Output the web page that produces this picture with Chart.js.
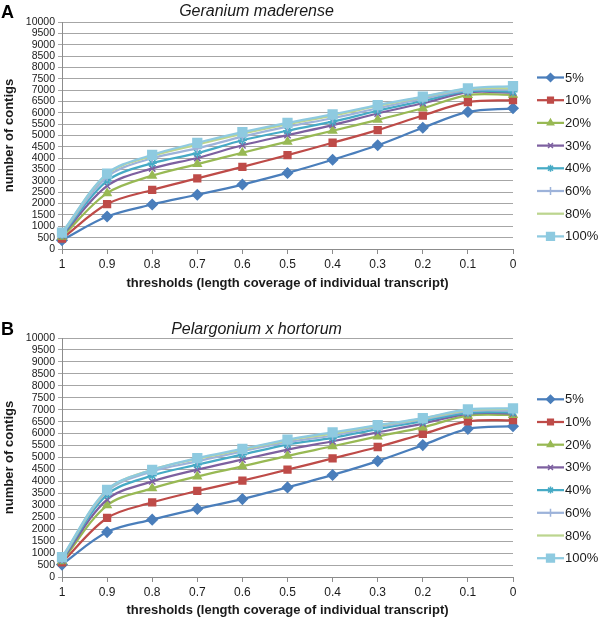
<!DOCTYPE html>
<html>
<head>
<meta charset="utf-8">
<script src="https://cdn.jsdelivr.net/npm/chart.js@4/dist/chart.umd.min.js"></script>
<style>
  body { margin: 0; background: #fff; width: 600px; height: 618px; overflow: hidden; }
  .panel { position: absolute; left: 0; width: 600px; }
</style>
</head>
<body>
<div class="panel" style="top:0;height:300px"><canvas id="chartA" width="600" height="300"></canvas></div>
<div class="panel" style="top:300px;height:318px"><canvas id="chartB" width="600" height="318"></canvas></div>
<script>
// x categories (length coverage threshold)
const thresholds = ['1', '0.9', '0.8', '0.7', '0.6', '0.5', '0.4', '0.3', '0.2', '0.1', '0'];
const seriesNames = ['5%', '10%', '20%', '30%', '40%', '60%', '80%', '100%'];
const yTicks = { min: 0, max: 10000, step: 500 };

// A - Geranium maderense
const geranium5 = [390, 1430, 1960, 2390, 2840, 3350, 3930, 4570, 5340, 6040, 6200];
const geranium10 = [460, 1980, 2600, 3110, 3620, 4135, 4680, 5240, 5880, 6470, 6560];
const geranium20 = [540, 2460, 3230, 3740, 4240, 4730, 5210, 5690, 6200, 6780, 6790];
const geranium30 = [590, 2780, 3550, 4010, 4570, 5020, 5460, 5970, 6420, 6900, 6890];
const geranium40 = [630, 3000, 3780, 4220, 4790, 5210, 5610, 6090, 6520, 6950, 6930];
const geranium60 = [670, 3180, 4000, 4430, 4950, 5390, 5760, 6200, 6620, 7000, 7020];
const geranium80 = [700, 3300, 4100, 4600, 5080, 5500, 5880, 6300, 6690, 7050, 7080];
const geranium100 = [720, 3320, 4150, 4680, 5150, 5560, 5930, 6340, 6710, 7080, 7180];

// B - Pelargonium x hortorum
const pelargonium5 = [520, 1880, 2400, 2850, 3260, 3750, 4270, 4850, 5520, 6200, 6310];
const pelargonium10 = [610, 2470, 3120, 3600, 4030, 4490, 4960, 5440, 5985, 6510, 6560];
const pelargonium20 = [660, 3000, 3710, 4210, 4630, 5070, 5470, 5880, 6260, 6750, 6780];
const pelargonium30 = [700, 3240, 4000, 4490, 4910, 5330, 5680, 6050, 6420, 6830, 6850];
const pelargonium40 = [740, 3440, 4240, 4700, 5120, 5540, 5820, 6190, 6520, 6870, 6890];
const pelargonium60 = [770, 3580, 4420, 4840, 5260, 5640, 5920, 6280, 6590, 6940, 6960];
const pelargonium80 = [800, 3630, 4490, 4940, 5330, 5720, 6000, 6330, 6630, 6980, 7030];
const pelargonium100 = [830, 3650, 4480, 4970, 5360, 5750, 6050, 6350, 6650, 7010, 7060];

// look of each series (Excel-like)
const colors = ['#4a7ebb', '#be4b48', '#98b954', '#7d60a0', '#46aac5', '#9db3da', '#bcd58f', '#8ecae0'];
const markers = ['rectRot', 'rect', 'triangle', 'crossRot', 'star', 'cross', false, 'rect'];
const markerSize = [5, 4.8, 4.5, 4.5, 4.5, 4.5, 0, 6.2];
const legendMarkerSize = [4, 4, 3.6, 3.5, 3.5, 4, 0, 5.5];

Chart.defaults.font.family = '"Liberation Sans", Arial, Helvetica, sans-serif';
Chart.defaults.color = '#1a1a1a';

function drawMark(ctx, style, r, x, y, color) {
  if (!style) return;
  ctx.save();
  ctx.fillStyle = color;
  ctx.strokeStyle = color;
  ctx.lineWidth = 1.5;
  Chart.helpers.drawPoint(ctx, { pointStyle: style, radius: r, rotation: 0, borderWidth: 1.5 }, x, y);
  ctx.restore();
}

function makeChart(id, letter, title, series, geo) {
  const legendPlugin = {
    id: 'sideLegend',
    afterDraw(chart) {
      const ctx = chart.ctx;
      ctx.save();
      ctx.font = '13px "Liberation Sans", Arial, sans-serif';
      ctx.textBaseline = 'middle';
      seriesNames.forEach((name, i) => {
        const y = geo.legendTop + i * geo.legendStep;
        ctx.strokeStyle = colors[i];
        ctx.lineWidth = 2.25;
        ctx.beginPath();
        ctx.moveTo(537, y);
        ctx.lineTo(564, y);
        ctx.stroke();
        drawMark(ctx, markers[i], legendMarkerSize[i], 550.5, y, colors[i]);
        ctx.fillStyle = '#1a1a1a';
        ctx.fillText(name, 565, y + 0.5);
      });
      // panel letter
      ctx.font = 'bold 18px "Liberation Sans", Arial, sans-serif';
      ctx.textBaseline = 'alphabetic';
      ctx.fillStyle = '#000';
      ctx.fillText(letter, 1, geo.letterBase);
      ctx.restore();
    }
  };

  return new Chart(document.getElementById(id), {
    type: 'line',
    data: {
      labels: thresholds,
      datasets: series.map((vals, i) => ({
        label: seriesNames[i],
        data: vals,
        order: -i,
        borderColor: colors[i],
        backgroundColor: colors[i],
        borderWidth: 2.25,
        tension: 0.33,
        pointStyle: markers[i],
        pointRadius: markerSize[i],
        pointBorderWidth: 1.5,
        pointBorderColor: colors[i],
        pointBackgroundColor: colors[i]
      }))
    },
    options: {
      responsive: false,
      animation: false,
      devicePixelRatio: 1,
      layout: { padding: { left: 0, right: 87, top: 0, bottom: 0 } },
      plugins: {
        legend: { display: false },
        tooltip: { enabled: false },
        title: {
          display: true,
          text: title,
          color: '#1a1a1a',
          font: { size: 16, style: 'italic', weight: 'normal', lineHeight: 1 },
          padding: { top: geo.titleTop, bottom: geo.titleBottom }
        }
      },
      scales: {
        x: {
          offset: false,
          afterFit(s) { s.height = geo.xHeight; },
          grid: { drawOnChartArea: false, drawTicks: true, tickLength: 5, color: '#8c8c8c' },
          border: { color: '#8c8c8c', width: 1 },
          ticks: { font: { size: 12 }, padding: 3, maxRotation: 0, autoSkip: false },
          title: {
            display: true,
            text: 'thresholds (length coverage of individual transcript)',
            font: { size: 13, weight: 'bold' },
            padding: { top: 0, bottom: geo.xTitleBottom }
          }
        },
        y: {
          min: yTicks.min,
          max: yTicks.max,
          afterFit(s) { s.width = 62; },
          grid: { color: '#a6a6a6', lineWidth: 1, drawTicks: true, tickLength: 4 },
          border: { color: '#8c8c8c', width: 1 },
          ticks: {
            stepSize: yTicks.step,
            font: { size: 10.5 },
            padding: 3,
            autoSkip: false,
            callback: v => String(v)
          },
          title: {
            display: true,
            text: 'number of contigs',
            font: { size: 13, weight: 'bold' },
            padding: { top: 2, bottom: 0 }
          }
        }
      }
    },
    plugins: [legendPlugin]
  });
}

makeChart('chartA', 'A', 'Geranium maderense',
  [geranium5, geranium10, geranium20, geranium30, geranium40, geranium60, geranium80, geranium100],
  { titleTop: 4, titleBottom: 2, xHeight: 51, xTitleBottom: 9, legendTop: 77.5, legendStep: 22.7, letterBase: 18 });

makeChart('chartB', 'B', 'Pelargonium x hortorum',
  [pelargonium5, pelargonium10, pelargonium20, pelargonium30, pelargonium40, pelargonium60, pelargonium80, pelargonium100],
  { titleTop: 22, titleBottom: 0, xHeight: 41, xTitleBottom: 0, legendTop: 99.3, legendStep: 22.7, letterBase: 35 });
</script>
</body>
</html>
